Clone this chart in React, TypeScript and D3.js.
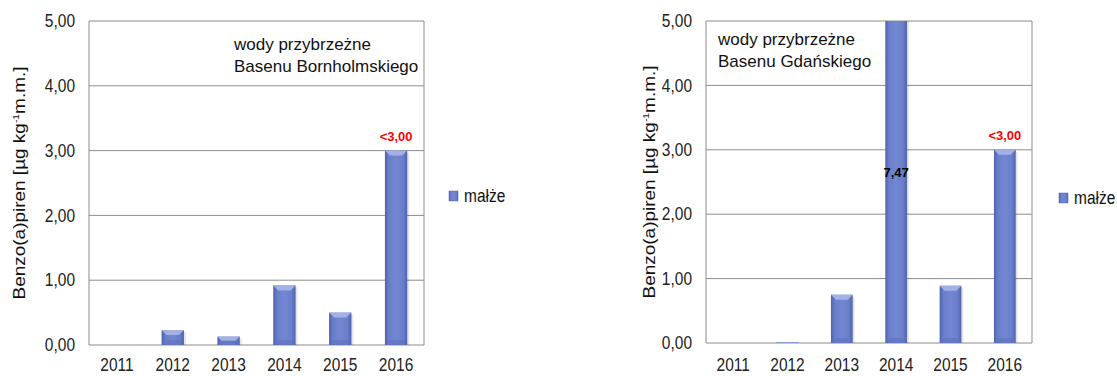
import * as d3 from 'd3';

const years = ['2011', '2012', '2013', '2014', '2015', '2016'];
const yTicks = [0, 1, 2, 3, 4, 5];
const bornholmValues = [0, 0.23, 0.13, 0.92, 0.5, 3.0];
const bornholmLabels = ['', '', '', '', '', '<3,00'];
const gdanskValues = [0, 0.01, 0.75, 7.47, 0.89, 3.0];
const gdanskLabels = ['', '', '', '7,47', '', '<3,00'];
const seriesName = 'małże';
const yTitle = 'Benzo(a)piren [µg kg';

const FONT = 'Liberation Sans, Arial, sans-serif';
const GRID = '#8c8c8c';
const SY = 1.15; // the source image looks stretched a bit vertically

interface PanelProps {
  id: string;
  left: number;
  right: number;
  top: number;
  bottom: number;
  values: number[];
  labels: string[];
  title: string[];
  titleX: number;
  titleY: number;
  legendX: number;
  legendY: number;
  yTitleX: number;
}

const Panel = (p: PanelProps) => {
  const x = d3.scaleBand<string>().domain(years).range([p.left, p.right]).paddingInner(0.6).paddingOuter(0.3);
  const y = d3.scaleLinear().domain([0, 5]).range([p.bottom, p.top]);
  const bw = x.bandwidth();
  const bev = 5;

  return (
    <g>
      <defs>
        <clipPath id={`clip-${p.id}`}>
          <rect x={p.left} y={p.top} width={p.right - p.left} height={p.bottom - p.top} />
        </clipPath>
      </defs>
      {/* grid + frame */}
      {yTicks.map(t => (
        <line key={t} x1={p.left} x2={p.right} y1={y(t)} y2={y(t)} stroke={GRID} strokeWidth={1} />
      ))}
      <line x1={p.left} x2={p.left} y1={p.top} y2={p.bottom} stroke={GRID} />
      <line x1={p.right} x2={p.right} y1={p.top} y2={p.bottom} stroke={GRID} />
      {yTicks.map(t => (
        <text key={t} transform={`translate(${p.left - 14},${y(t)}) scale(1,${SY})`} dy="0.35em" textAnchor="end" fontSize={15.5} fontFamily={FONT} fill="#222">
          {d3.format('.2f')(t).replace('.', ',')}
        </text>
      ))}
      {years.map(yr => (
        <text key={yr} transform={`translate(${(x(yr) ?? 0) + bw / 2},371) scale(1,${SY})`} textAnchor="middle" fontSize={15.5} fontFamily={FONT} fill="#222">
          {yr}
        </text>
      ))}
      {/* bars */}
      <g clipPath={`url(#clip-${p.id})`}>
        {p.values.map((v, i) => {
          if (v <= 0) return null;
          const bx = x(years[i]) ?? 0;
          const top = Math.max(y(v), p.top - 10);
          const h = p.bottom - top;
          const b = Math.min(bev, h / 2);
          return (
            <g key={i}>
              <rect x={bx + 2} y={top + 2} width={bw} height={h - 2} fill="#000" opacity={0.1} />
              <rect x={bx} y={top} width={bw} height={h} fill="url(#barGrad)" />
              <path d={`M${bx},${top}L${bx + bw},${top}L${bx + bw - b},${top + b}L${bx + b},${top + b}Z`} fill="#a9b6e8" opacity={0.9} />
              <path d={`M${bx},${p.bottom}L${bx + bw},${p.bottom}L${bx + bw - b},${p.bottom - b}L${bx + b},${p.bottom - b}Z`} fill="#5f72bd" opacity={0.6} />
            </g>
          );
        })}
      </g>
      {p.labels.map((l, i) => {
        if (!l) return null;
        const cx = (x(years[i]) ?? 0) + bw / 2;
        const red = l.startsWith('<');
        const ly = red ? y(p.values[i]) - 14 : y(2.65);
        return (
          <text key={i} x={cx} y={ly} dy="0.35em" textAnchor="middle" fontSize={13} fontWeight="bold" fontFamily={FONT} fill={red ? '#ff0000' : '#000'}>
            {l}
          </text>
        );
      })}
      {/* in-plot title */}
      {p.title.map((t, i) => (
        <text key={i} x={p.titleX} y={p.titleY + i * 22} fontSize={17} fontFamily={FONT} fill="#111">
          {t}
        </text>
      ))}
      {/* y title */}
      <text transform={`translate(${p.yTitleX},${(p.top + p.bottom) / 2}) scale(1,${SY}) rotate(-90)`} textAnchor="middle" fontSize={16.5} fontFamily={FONT} fill="#111">
        {yTitle}
        <tspan dy={-6} fontSize={9}>-1</tspan>
        <tspan dy={6}>m.m.]</tspan>
      </text>
      {/* legend */}
      <rect x={p.legendX} y={p.legendY - 5} width={9} height={10} fill="url(#barGrad)" stroke="#5365b0" strokeWidth={0.5} />
      <text transform={`translate(${p.legendX + 15},${p.legendY}) scale(1,${SY})`} dy="0.35em" fontSize={15.5} fontFamily={FONT} fill="#111">
        {seriesName}
      </text>
    </g>
  );
};

export default function App() {
  return (
    <svg width={1117} height={376} style={{ position: 'absolute', left: 0, top: 0, background: '#fff' }}>
      <defs>
        <linearGradient id="barGrad" x1="0" x2="1" y1="0" y2="0">
          <stop offset="0%" stopColor="#4f62ac" />
          <stop offset="18%" stopColor="#6a7ecb" />
          <stop offset="50%" stopColor="#7287d2" />
          <stop offset="82%" stopColor="#6a7ecb" />
          <stop offset="100%" stopColor="#4f62ac" />
        </linearGradient>
      </defs>
      <Panel
        id="a"
        left={89}
        right={424}
        top={21}
        bottom={345}
        values={bornholmValues}
        labels={bornholmLabels}
        title={['wody przybrzeżne', 'Basenu Bornholmskiego']}
        titleX={234}
        titleY={50}
        legendX={449}
        legendY={196}
        yTitleX={25}
      />
      <Panel
        id="b"
        left={706}
        right={1032}
        top={21}
        bottom={343}
        values={gdanskValues}
        labels={gdanskLabels}
        title={['wody przybrzeżne', 'Basenu Gdańskiego']}
        titleX={718}
        titleY={45}
        legendX={1059}
        legendY={198}
        yTitleX={655}
      />
    </svg>
  );
}
